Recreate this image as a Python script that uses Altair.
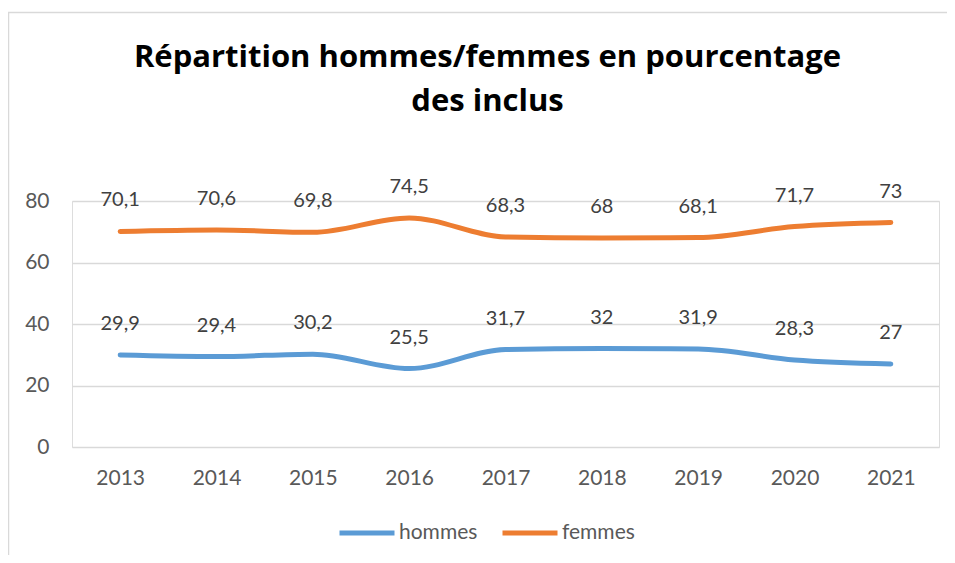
import altair as alt
import pandas as pd

years = ["2013", "2014", "2015", "2016", "2017", "2018", "2019", "2020", "2021"]
hommes = [29.9, 29.4, 30.2, 25.5, 31.7, 32, 31.9, 28.3, 27]
femmes = [70.1, 70.6, 69.8, 74.5, 68.3, 68, 68.1, 71.7, 73]
series = ["hommes", "femmes"]
colors = ["#5B9BD5", "#ED7D31"]

rows = []
for name, vals in zip(series, [hommes, femmes]):
    for y, v in zip(years, vals):
        rows.append({"annee": y, "serie": name, "valeur": v,
                     "label": f"{v:g}".replace(".", ",")})
df = pd.DataFrame(rows)

FONT = "Lato"
W, H = 867, 246

x = alt.X("annee:O", title=None, sort=years,
          scale=alt.Scale(type="point", padding=0.5),
          axis=alt.Axis(labelAngle=0, ticks=False, tickSize=0, domain=False, grid=False,
                        labelFontSize=21, labelColor="#595959", labelFont=FONT,
                        labelPadding=20))
y = alt.Y("valeur:Q", title=None,
          scale=alt.Scale(domain=[0, 80], nice=False),
          axis=alt.Axis(values=[0, 20, 40, 60, 80], ticks=False, tickSize=0, domain=False,
                        gridColor="#d9d9d9", gridWidth=1.5,
                        labelFontSize=21, labelColor="#595959", labelFont=FONT,
                        labelPadding=23))

color = alt.Color("serie:N", sort=series,
                  scale=alt.Scale(domain=series, range=colors),
                  legend=alt.Legend(title=None, orient="none", direction="horizontal",
                                    legendX=265, legendY=302,
                                    symbolType="stroke", symbolSize=3025,
                                    symbolStrokeWidth=5, labelFontSize=21,
                                    labelColor="#595959", labelFont=FONT,
                                    labelOffset=2, columnPadding=14))

base = alt.Chart(df)

lines = base.mark_line(strokeWidth=5, strokeCap="round", interpolate="monotone").encode(
    x=x, y=y, color=color, detail="serie:N")

labels = base.mark_text(fontSize=20, color="#404040", font=FONT, baseline="middle",
                        dy=-31).encode(x=alt.X("annee:O", sort=years), y="valeur:Q", text="label:N")

border = alt.Chart(pd.DataFrame({"k": [0]})).mark_rect(
    fill=None, stroke="#d9d9d9", strokeWidth=1.5, clip=False).encode(
    x=alt.value(-63.5), x2=alt.value(920), y=alt.value(-188.5), y2=alt.value(400))

chart = alt.layer(border, lines, labels).properties(
    width=W, height=H,
    padding={"left": 64, "top": 193, "right": 8, "bottom": 108},
    autosize=alt.AutoSizeParams(type="none"),
    title=alt.TitleParams(
        text=["Répartition hommes/femmes en pourcentage", "des inclus"],
        font="Open Sans", fontSize=31, fontWeight="bold", color="#000000",
        lineHeight=44, anchor="middle", dx=-18, offset=0, dy=106),
).configure_view(stroke=None).configure(background="white")

chart.save("out.html", embed_options={"renderer": "svg", "actions": False})
